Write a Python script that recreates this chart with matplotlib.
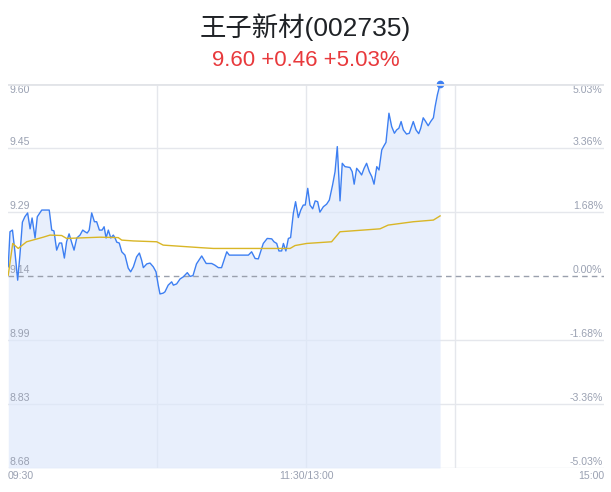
import matplotlib
matplotlib.use("Agg")
import matplotlib.pyplot as plt

# ---- data (minutes since 09:30, trading time; 120 = 11:30/13:00) ----
prev_close = 9.14
price_min = [0.1, 0.8, 1.8, 2.8, 3.9, 4.8, 5.8, 6.8, 7.9, 8.9, 9.7, 10.9, 11.8, 13.6, 16.6,
             17.6, 18.5, 19.6, 20.7, 21.6, 22.7, 23.6, 24.6, 25.7, 26.6, 27.7, 29.0, 30.1,
             31.0, 31.9, 32.7, 33.7, 34.8, 35.7, 36.8, 37.9, 38.7, 39.5, 40.4, 41.4, 42.4,
             43.1, 43.8, 44.8, 45.8, 47.1, 48.4, 49.4, 50.5, 51.8, 52.9, 53.8, 54.5, 55.9,
             57.2, 58.5, 59.6, 60.5, 61.2, 62.5, 63.2, 64.5, 65.9, 66.6, 67.9, 69.3, 70.6,
             72.2, 73.3, 74.5, 75.9, 78.0, 79.8, 82.0, 83.3, 84.7, 86.0, 88.1, 89.1, 96.8,
             98.1, 99.5, 100.8, 102.8, 104.4, 106.2, 107.1, 108.2, 109.1, 110.2, 110.9,
             111.9, 112.9, 113.8, 114.9, 115.8, 116.9, 117.9, 118.9, 119.7, 120.7, 121.6,
             122.7, 123.7, 124.7, 125.6, 127.0, 128.3, 129.4, 130.7, 131.7, 132.6, 133.7,
             134.6, 135.7, 137.7, 138.6, 139.4, 140.4, 141.5, 142.4, 143.4, 144.4, 145.5,
             146.5, 147.4, 148.5, 149.4, 150.5, 151.4, 152.2, 153.4, 154.5, 155.6, 156.5,
             157.4, 158.3, 159.2, 160.5, 161.6, 163.2, 164.3, 165.4, 166.2, 167.2, 168.2,
             169.2, 170.2, 171.3, 172.0, 172.9, 174.0]
price_val = [9.162, 9.246, 9.250, 9.197, 9.130, 9.190, 9.269, 9.282, 9.291, 9.253, 9.279,
             9.231, 9.282, 9.298, 9.298, 9.250, 9.248, 9.202, 9.219, 9.219, 9.183, 9.222,
             9.241, 9.219, 9.202, 9.231, 9.238, 9.250, 9.246, 9.243, 9.250, 9.291, 9.270,
             9.270, 9.250, 9.250, 9.258, 9.231, 9.250, 9.231, 9.238, 9.231, 9.221, 9.219,
             9.198, 9.190, 9.159, 9.150, 9.162, 9.186, 9.195, 9.178, 9.160, 9.169, 9.171,
             9.162, 9.150, 9.118, 9.097, 9.099, 9.102, 9.118, 9.126, 9.118, 9.121, 9.133,
             9.138, 9.148, 9.139, 9.141, 9.169, 9.188, 9.170, 9.170, 9.166, 9.160, 9.160,
             9.198, 9.190, 9.190, 9.198, 9.182, 9.181, 9.218, 9.230, 9.229, 9.222, 9.218,
             9.200, 9.200, 9.218, 9.200, 9.230, 9.232, 9.290, 9.318, 9.280, 9.298, 9.310,
             9.310, 9.350, 9.310, 9.301, 9.320, 9.318, 9.293, 9.306, 9.312, 9.322, 9.358,
             9.390, 9.450, 9.320, 9.410, 9.402, 9.400, 9.390, 9.360, 9.398, 9.390, 9.382,
             9.398, 9.410, 9.390, 9.378, 9.360, 9.402, 9.394, 9.442, 9.452, 9.460, 9.530,
             9.498, 9.482, 9.490, 9.494, 9.510, 9.490, 9.480, 9.482, 9.510, 9.490, 9.481,
             9.494, 9.519, 9.510, 9.500, 9.510, 9.519, 9.546, 9.574, 9.600]
avg_min = [0.1, 1.9, 4.1, 7.5, 14.2, 16.9, 21.6, 23.6, 37.0, 44.4, 45.8, 50.5, 59.9, 62.5,
           77.3, 82.7, 113.6, 115.6, 120.3, 130.3, 133.7, 149.8, 153.1, 163.2, 171.3, 174.0]
avg_val = [9.142, 9.218, 9.206, 9.222, 9.233, 9.238, 9.237, 9.230, 9.233, 9.232, 9.226,
           9.224, 9.222, 9.214, 9.208, 9.206, 9.206, 9.213, 9.218, 9.222, 9.246, 9.253,
           9.262, 9.270, 9.274, 9.284]
left_labels = ["9.60", "9.45", "9.29", "9.14", "8.99", "8.83", "8.68"]
right_labels = ["5.03%", "3.36%", "1.68%", "0.00%", "-1.68%", "-3.36%", "-5.03%"]
x_labels = ["09:30", "11:30/13:00", "15:00"]
title = "王子新材(002735)"
subtitle = "9.60 +0.46 +5.03%"

W, H = 611, 492
fig = plt.figure(figsize=(W / 100, H / 100), dpi=100)
ax_l, ax_r, ax_t, ax_b = 8, 604, 84, 468
ax = fig.add_axes([ax_l / W, 1 - ax_b / H, (ax_r - ax_l) / W, (ax_b - ax_t) / H])
ymax, ymin = 9.60, 8.68
ax.set_xlim(0, 240)
ax.set_ylim(ymin, ymax)
for s in ax.spines.values():
    s.set_visible(False)
ax.set_xticks([])
ax.set_yticks([])

grid_c = "#e5e7ec"
levels = [ymax - i * (ymax - ymin) / 6 for i in range(7)]
for i, lv in enumerate(levels):
    if i == 3:
        continue
    ax.axhline(lv, color=grid_c, lw=1.0, zorder=1)
for xv in [60, 120, 180]:
    ax.axvline(xv, color=grid_c, lw=1.0, zorder=1)

ax.fill_between(price_min, price_val, ymin, color="#dde7fb", alpha=0.65, lw=0, zorder=2)
ax.axhline(prev_close, color="#9aa0ad", lw=1.0, ls=(0, (4, 3)), zorder=3)
ax.plot(price_min, price_val, color="#3d7ff2", lw=1.0, zorder=4)
ax.plot(avg_min, avg_val, color="#d9b626", lw=1.0, zorder=4)
ax.plot([price_min[-1]], [price_val[-1]], "o", color="#3d7ff2", ms=4.5, zorder=5, clip_on=False)
ax.axhline(ymax, color="#e2e4e8", lw=2.0, zorder=6)

lab_c = "#9aa1b2"
fs = 7.6
for i, (lv, ll, rl) in enumerate(zip(levels, left_labels, right_labels)):
    va = "top" if i == 0 else "bottom"
    dy = -0.8 if i == 0 else 1.0
    ax.annotate(ll, (0, lv), xytext=(0.8, dy), textcoords="offset points",
                ha="left", va=va, fontsize=fs, color=lab_c, family="Liberation Sans")
    ax.annotate(rl, (240, lv), xytext=(-1, dy), textcoords="offset points",
                ha="right", va=va, fontsize=fs, color=lab_c, family="Liberation Sans")

for xv, lab, ha in zip([0, 120, 240], x_labels, ["left", "center", "right"]):
    ax.annotate(lab, (xv, ymin), xytext=(0, -2), textcoords="offset points",
                ha=ha, va="top", fontsize=fs, color=lab_c, family="Liberation Sans",
                annotation_clip=False)

fig.text(0.5, 1 - 27 / H, title, ha="center", va="center", fontsize=19, color="#1f2226",
         family=["Liberation Sans", "Noto Sans CJK SC"])
fig.text(0.5, 1 - 61 / H, subtitle, ha="center", va="center", fontsize=16, color="#e8393c",
         family="Liberation Sans")

fig.savefig("out.png", dpi=100)
